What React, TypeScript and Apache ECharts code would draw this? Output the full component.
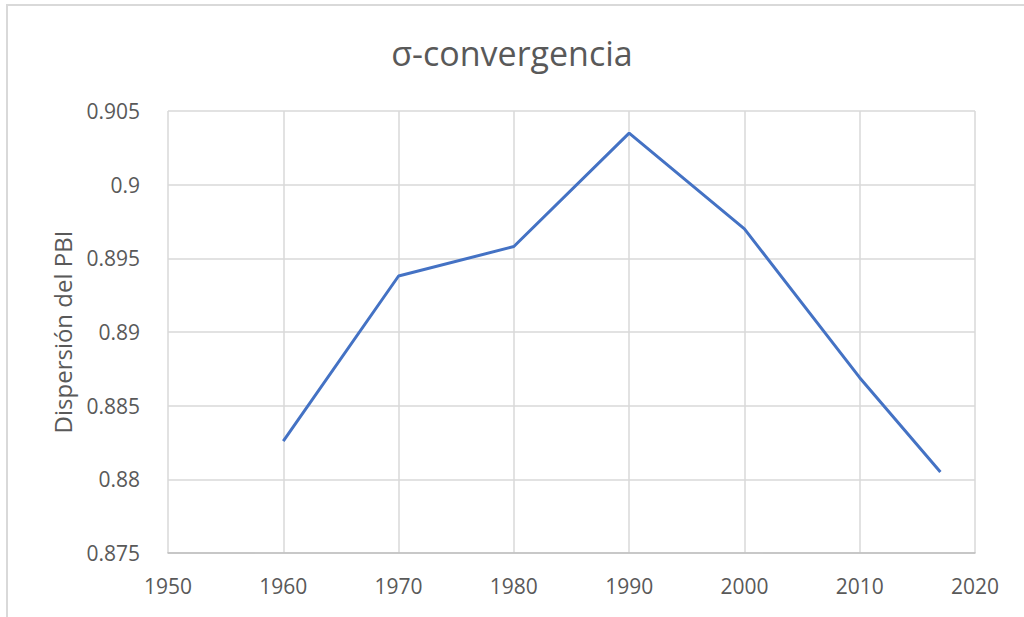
import React, { useEffect, useRef } from "react";
import * as echarts from "echarts";

const years = [1960, 1970, 1980, 1990, 2000, 2010, 2017];
const dispersion = [0.8826, 0.8938, 0.8958, 0.9035, 0.897, 0.8869, 0.8805];
const titleText = "σ-convergencia";
const yName = "Dispersión del PBI";

export default function App() {
  const ref = useRef<HTMLDivElement>(null);
  useEffect(() => {
    if (!ref.current) return;
    const chart = echarts.init(ref.current, undefined, { renderer: "svg" });
    const font = "'Open Sans', sans-serif";
    chart.setOption({
      animation: false,
      backgroundColor: "#ffffff",
      title: {
        text: titleText,
        left: "center",
        top: 31,
        textStyle: { fontFamily: font, fontSize: 34, fontWeight: "normal", color: "#595959" },
      },
      graphic: [
        {
          type: "rect",
          shape: { x: 7, y: 5, width: 1100, height: 700 },
          style: { fill: "none", stroke: "#d9d9d9", lineWidth: 2 },
          silent: true,
        },
      ],
      grid: { left: 168, right: 49, top: 111, bottom: 64 },
      xAxis: {
        type: "value",
        min: 1950,
        max: 2020,
        interval: 10,
        axisLine: { show: true, lineStyle: { color: "#bfbfbf", width: 1.5 } },
        axisTick: { show: false },
        splitLine: { show: true, lineStyle: { color: "#d9d9d9", width: 1.5 } },
        axisLabel: {
          fontFamily: font,
          fontSize: 21,
          color: "#595959",
          margin: 22,
          formatter: (v: number) => String(v),
        },
      },
      yAxis: {
        type: "value",
        min: 0.875,
        max: 0.905,
        interval: 0.005,
        name: yName,
        nameLocation: "middle",
        nameGap: 94,
        nameTextStyle: { fontFamily: font, fontSize: 24, color: "#595959" },
        axisLine: { show: false },
        axisTick: { show: false },
        splitLine: { show: true, lineStyle: { color: "#d9d9d9", width: 1.5 } },
        axisLabel: {
          fontFamily: font,
          fontSize: 21,
          color: "#595959",
          margin: 28,
          formatter: (v: number) => String(+v.toFixed(3)),
        },
      },
      series: [
        {
          type: "line",
          data: years.map((y, i) => [y, dispersion[i]]),
          showSymbol: false,
          symbol: "none",
          lineStyle: { color: "#4472C4", width: 3 },
        },
      ],
    });
    return () => chart.dispose();
  }, []);
  return (
    <div
      ref={ref}
      style={{ position: "fixed", left: 0, top: 0, width: 1024, height: 617 }}
    />
  );
}
